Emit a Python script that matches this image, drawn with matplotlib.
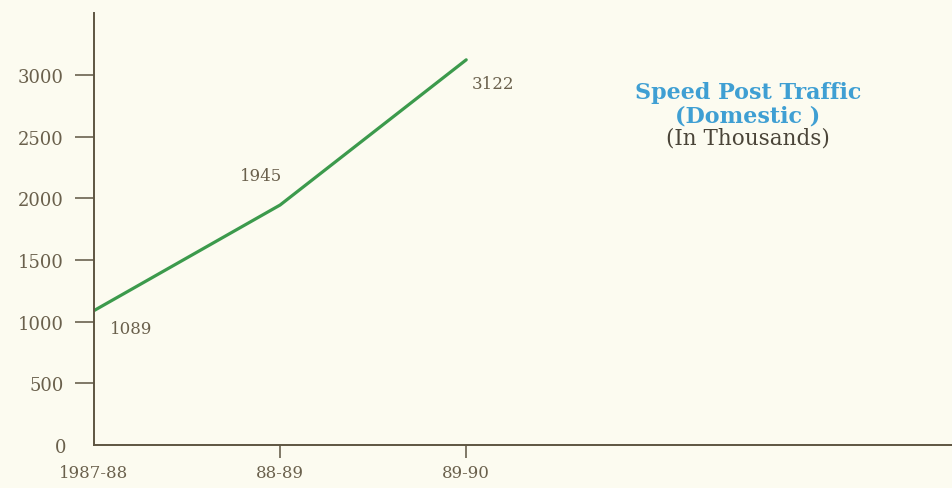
import matplotlib.pyplot as plt

# Speed Post traffic (domestic), in thousands
years = ['1987-88', '88-89', '89-90']
traffic = [1089, 1945, 3122]
y_ticks = [0, 500, 1000, 1500, 2000, 2500, 3000]

ink = '#6a604c'
paper = '#fcfbf0'
green = '#3c9a4c'
blue = '#3f9fd3'

plt.rcParams['font.family'] = ['DejaVu Serif']

fig = plt.figure(figsize=(9.52, 4.89), dpi=100, facecolor=paper)
ax = fig.add_axes([0.0987, 0.088, 0.9013, 0.883], facecolor=paper)

x = list(range(len(years)))
ax.plot(x, traffic, color=green, lw=2.3, solid_capstyle='round')

ax.set_xlim(0, 4.61)
ax.set_ylim(0, 3500)

for s in ['top', 'right']:
    ax.spines[s].set_visible(False)
for s in ['left', 'bottom']:
    ax.spines[s].set_color('#5e5542')
    ax.spines[s].set_linewidth(1.4)

ax.set_xticks(x)
ax.set_xticklabels(years, fontsize=12, color=ink)
ax.tick_params(axis='x', direction='out', length=9, width=1.1, color='#5e5542', pad=5)
ax.xaxis.get_major_ticks()[0].tick1line.set_visible(False)

ax.set_yticks(y_ticks)
ax.set_yticklabels([str(v) for v in y_ticks], fontsize=13, color=ink)
ax.tick_params(axis='y', direction='out', length=14, width=1.1, color='#5e5542', pad=8)
first = ax.yaxis.get_major_ticks()[0]
first.tick1line.set_visible(False)
first.label1.set_visible(False)
ax.annotate('0', xy=(0, 0), xytext=(-24, -1.5), textcoords='offset points',
            fontsize=13, color=ink, ha='center', va='center', annotation_clip=False)

# value labels next to the points
offsets = [(27, -13), (-14, 21), (19, -17)]
for xi, v, off in zip(x, traffic, offsets):
    ax.annotate(str(v), xy=(xi, v), xytext=off, textcoords='offset points',
                fontsize=12, color=ink, ha='center', va='center')

ax.text(0.762, 0.817, 'Speed Post Traffic', transform=ax.transAxes,
        fontsize=16, fontweight='bold', color=blue, ha='center', va='center')
ax.text(0.762, 0.764, '(Domestic )', transform=ax.transAxes,
        fontsize=16, fontweight='bold', color=blue, ha='center', va='center')
ax.text(0.762, 0.713, '(In Thousands)', transform=ax.transAxes,
        fontsize=15.5, color='#4a4438', ha='center', va='center')

fig.savefig('out.png', dpi=100, facecolor=paper)
